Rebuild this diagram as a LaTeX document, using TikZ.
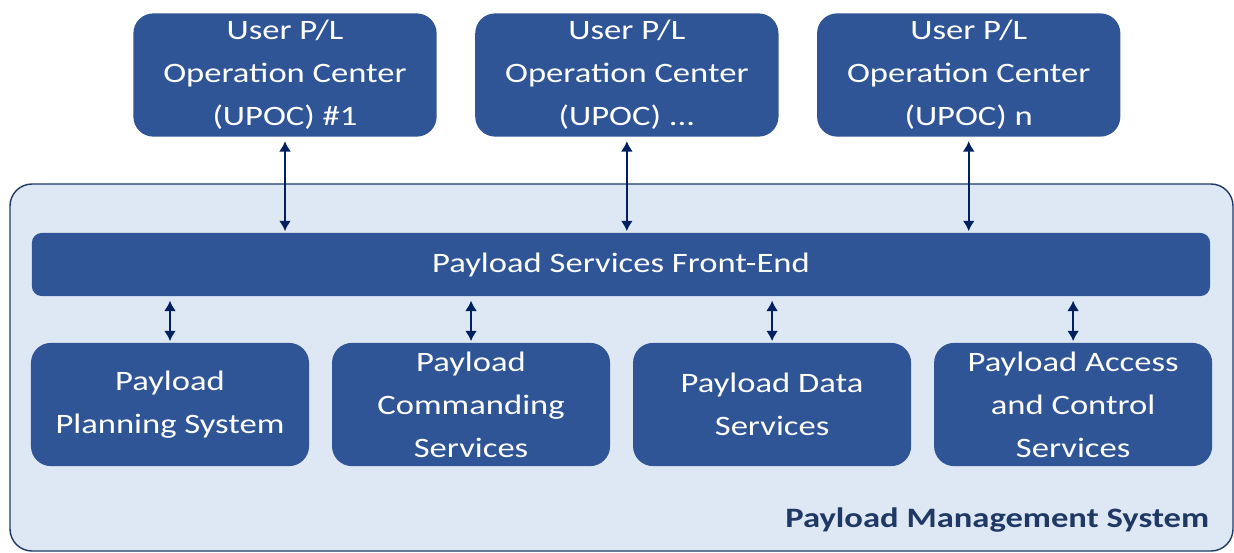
\documentclass[tikz,border=0pt]{standalone}
\usepackage{fontspec}
\setmainfont{Carlito}[FakeStretch=1.23]
\usepackage{xcolor}
\usetikzlibrary{arrows.meta,positioning}

\definecolor{boxblue}{HTML}{2F5597}
\definecolor{pmsfill}{HTML}{DEE8F4}
\definecolor{pmsline}{HTML}{1F3864}
\definecolor{navy}{HTML}{002060}

\begin{document}
\begin{tikzpicture}[x=0.025cm, y=-0.025cm,
    block/.style={rectangle, fill=boxblue, text=white, align=center, inner sep=0pt, rounded corners=0.5cm, minimum height=3.08cm, font=\fontsize{20}{30.5}\selectfont},
    upoc/.style={block, minimum width=7.58cm},
    service/.style={block, minimum width=6.95cm},
    frontend/.style={block, rounded corners=0.25cm, minimum width=29.45cm, minimum height=1.58cm},
    system/.style={rectangle, draw=pmsline, line width=1pt, fill=pmsfill, rounded corners=0.55cm},
    arrow/.style={draw, line width=1.6pt, {Latex[length=2.6mm,width=3mm]}-{Latex[length=2.6mm,width=3mm]}, color=navy, shorten <=3pt, shorten >=1pt},
    label/.style={font=\fontsize{20}{24}\bfseries, text=pmsline}
]
    \useasboundingbox (0,0) rectangle (1234,552);

    % Payload Management System frame
    \draw[system] (10,184) rectangle (1233,551);
    \node[label, anchor=base east] (pmslabel) at (1214,527) {Payload Management System};

    % User operation centers
    \node[upoc] (upoc1) at (285,75) {User P/L\\Operation Center\\(UPOC) \#1};
    \node[upoc, right=0.95cm of upoc1] (upoc2) {User P/L\\Operation Center\\(UPOC) ...};
    \node[upoc, right=0.95cm of upoc2] (upocn) {User P/L\\Operation Center\\(UPOC) n};

    % Front-end
    \node[frontend] (fe) at (621,264.5) {Payload Services Front-End};

    % Services
    \node[service] (plan) at (170,404.5) {Payload\\Planning System};
    \node[service, right=0.56cm of plan] (cmd) {Payload\\Commanding\\Services};
    \node[service, right=0.56cm of cmd] (data) {Payload Data\\Services};
    \node[service, right=0.56cm of data] (access) {Payload Access\\and Control\\Services};

    % Arrows
    \foreach \n in {upoc1,upoc2,upocn}
        \path[arrow] (\n.south) -- (\n.south |- fe.north);
    \foreach \n in {plan,cmd,data,access}
        \path[arrow] (fe.south -| \n.north) -- (\n.north);
\end{tikzpicture}
\end{document}
